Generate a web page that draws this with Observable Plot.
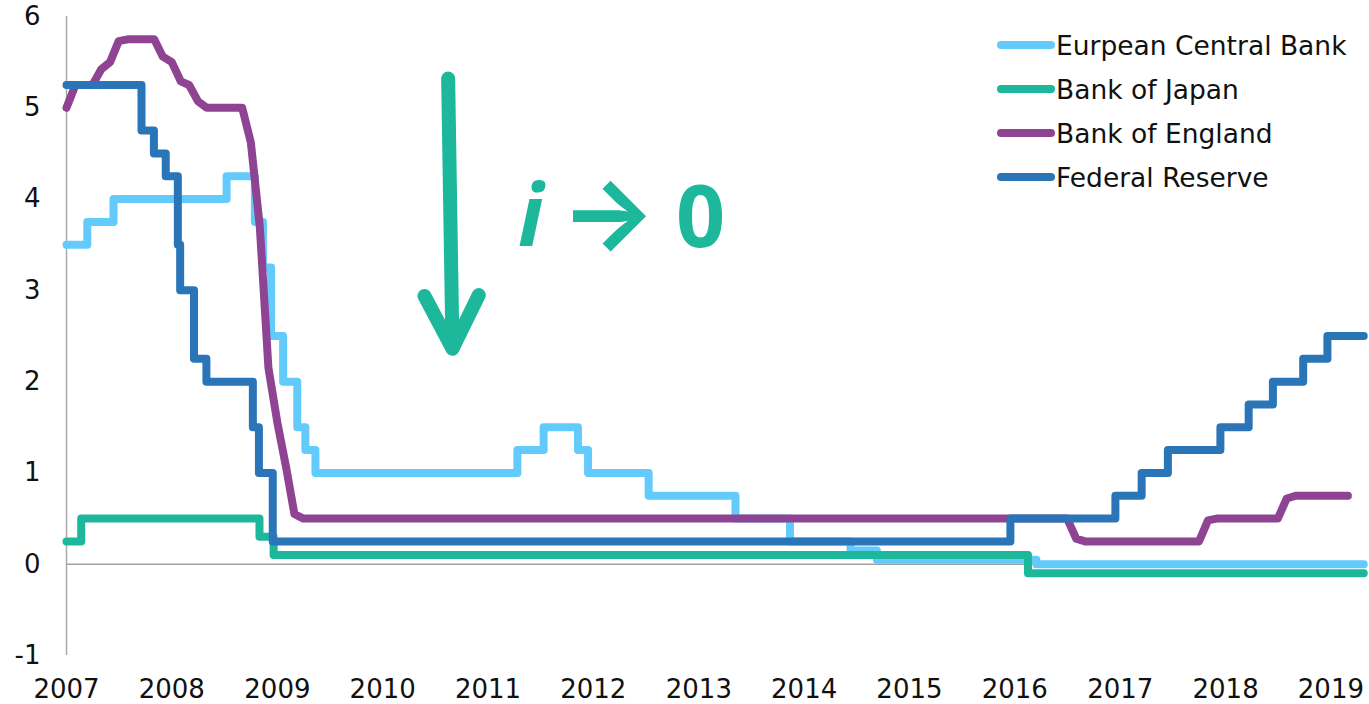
<!DOCTYPE html>
<html><head><meta charset="utf-8">
<script src="https://cdn.jsdelivr.net/npm/d3@7"></script>
<script src="https://cdn.jsdelivr.net/npm/@observablehq/plot@0.6"></script>
<style>
body{margin:0;background:#fff;}
#wrap{position:relative;width:1369px;height:704px;}
#legend{position:absolute;left:997px;top:23px;font-family:"DejaVu Sans";font-size:26.5px;color:#111;}
.item{display:flex;align-items:center;height:44px;white-space:nowrap;}
.sw{width:58px;height:8px;border-radius:4px;margin-right:1px;flex:none;}
</style></head>
<body><div id="wrap"><div id="legend"></div></div>
<script>
const banks = ["Eurpean Central Bank", "Bank of Japan", "Bank of England", "Federal Reserve"];
const colors = ["#63cbfc", "#1db89c", "#8e4493", "#2a75b8"];

// European Central Bank – main refinancing rate (change dates)
const ecbDates = ["2007-01-01","2007-03-14","2007-06-13","2008-07-09","2008-10-15","2008-11-12","2008-12-10","2009-01-21","2009-03-11","2009-04-08","2009-05-13","2011-04-13","2011-07-13","2011-11-09","2011-12-14","2012-07-11","2013-05-08","2013-11-13","2014-06-11","2014-09-10","2016-03-16","2019-04-25"];
const ecbRates = [3.5,3.75,4.0,4.25,3.75,3.25,2.5,2.0,1.5,1.25,1.0,1.25,1.5,1.25,1.0,0.75,0.5,0.25,0.15,0.05,0.0,0.0];

// Bank of Japan
const bojDates = ["2007-01-01","2007-02-21","2008-10-31","2008-12-19","2016-02-16","2019-04-25"];
const bojRates = [0.25,0.5,0.3,0.1,-0.1,-0.1];

// Bank of England – monthly points
const boeDates = ["2007-01-01","2007-02-01","2007-04-01","2007-05-01","2007-06-01","2007-07-01","2007-08-01","2007-11-01","2007-12-01","2008-01-01","2008-02-01","2008-03-01","2008-04-01","2008-05-01","2008-09-01","2008-10-01","2008-11-01","2008-12-01","2009-01-01","2009-02-01","2009-03-01","2009-04-01","2016-07-01","2016-08-01","2016-09-01","2017-10-01","2017-11-01","2017-12-01","2018-07-01","2018-08-01","2018-09-01","2019-03-01"];
const boeRates = [5.0,5.25,5.25,5.42,5.5,5.73,5.75,5.75,5.56,5.5,5.29,5.25,5.07,5.0,5.0,4.62,3.7,2.15,1.55,1.05,0.55,0.5,0.5,0.28,0.25,0.25,0.48,0.5,0.5,0.72,0.75,0.75];

// Federal Reserve – target (upper bound)
const fedDates = ["2007-01-01","2007-09-18","2007-10-31","2007-12-11","2008-01-22","2008-01-30","2008-03-18","2008-04-30","2008-10-08","2008-10-29","2008-12-16","2015-12-17","2016-12-15","2017-03-16","2017-06-15","2017-12-14","2018-03-22","2018-06-14","2018-09-27","2018-12-20","2019-04-25"];
const fedRates = [5.25,4.75,4.5,4.25,3.5,3.0,2.25,2.0,1.5,1.0,0.25,0.5,0.75,1.0,1.25,1.5,1.75,2.0,2.25,2.5,2.5];

const yearTicks = ["2007","2008","2009","2010","2011","2012","2013","2014","2015","2016","2017","2018","2019"];
const yTicks = [-1,0,1,2,3,4,5,6];
const xDomain = ["2007-01-01","2019-05-01"];

// annotation: arrow and "i → 0"
const arrowDates = ["2010-08-16","2010-08-31"];
const arrowRates = [5.32, 2.36];
const annoParts = ["i", "→", "0"];
const annoDates = ["2011-05-29","2012-02-22","2013-01-07"];
const annoRates = [3.49, 3.46, 3.47];

const P = d => new Date(d + "T00:00:00Z");
const rows = (dates, rates) => dates.map((d, i) => ({date: P(d), rate: rates[i]}));
const ecb = rows(ecbDates, ecbRates), boj = rows(bojDates, bojRates), boe = rows(boeDates, boeRates), fed = rows(fedDates, fedRates);
const lineOpts = (c) => ({x: "date", y: "rate", stroke: c, strokeWidth: 8, strokeLinecap: "round", strokeLinejoin: "round"});

const chart = Plot.plot({
  width: 1369, height: 704,
  marginLeft: 66, marginRight: 4, marginTop: 16, marginBottom: 49,
  style: {fontFamily: "DejaVu Sans", fontSize: "26px", color: "#111", background: "#fff"},
  x: {type: "utc", domain: xDomain.map(P)},
  y: {domain: [-1, 6]},
  marks: [
    Plot.ruleX([P(xDomain[0])], {stroke: "#ababab", strokeWidth: 1.5}),
    Plot.ruleY([0], {stroke: "#a0a0a0", strokeWidth: 1.5}),
    Plot.axisX({ticks: yearTicks.map(y => P(y + "-01-01")), tickFormat: d3.utcFormat("%Y"), tickSize: 0, tickPadding: 24, label: null}),
    Plot.axisY({ticks: yTicks, tickFormat: d => String(d), tickSize: 0, tickPadding: 26, label: null}),
    Plot.line(ecb, {...lineOpts(colors[0]), curve: "step-after"}),
    Plot.line(boj, {...lineOpts(colors[1]), curve: "step-after"}),
    Plot.line(boe, {...lineOpts(colors[2]), curve: "linear"}),
    Plot.line(fed, {...lineOpts(colors[3]), curve: "step-after"}),
    Plot.arrow([0], {x1: () => P(arrowDates[0]), y1: () => arrowRates[0], x2: () => P(arrowDates[1]), y2: () => arrowRates[1],
      stroke: colors[1], strokeWidth: 14, headLength: 6.4, headAngle: 54, strokeLinecap: "round", strokeLinejoin: "round"}),
    Plot.text([0], {x: () => P(annoDates[0]), y: () => annoRates[0], text: () => annoParts[0], fill: colors[1],
      fontFamily: "Open Sans", fontWeight: "bold", fontStyle: "italic", fontSize: 86, lineAnchor: "bottom", textAnchor: "middle"}),
    Plot.text([0], {x: () => P(annoDates[1]), y: () => annoRates[1], text: () => annoParts[1], fill: colors[1],
      fontFamily: "Inter", fontWeight: "bold", fontSize: 100, lineAnchor: "bottom", textAnchor: "middle"}),
    Plot.text([0], {x: () => P(annoDates[2]), y: () => annoRates[2], text: () => annoParts[2], fill: colors[1],
      fontFamily: "Open Sans", fontWeight: "bold", fontSize: 86, lineAnchor: "bottom", textAnchor: "middle"})
  ]
});
const wrap = document.getElementById("wrap");
wrap.insertBefore(chart, wrap.firstChild);

const legend = document.getElementById("legend");
banks.forEach((b, i) => {
  const item = document.createElement("div");
  item.className = "item";
  const sw = document.createElement("span");
  sw.className = "sw"; sw.style.background = colors[i];
  const t = document.createElement("span");
  t.textContent = b;
  item.appendChild(sw); item.appendChild(t);
  legend.appendChild(item);
});
</script>
</body></html>
